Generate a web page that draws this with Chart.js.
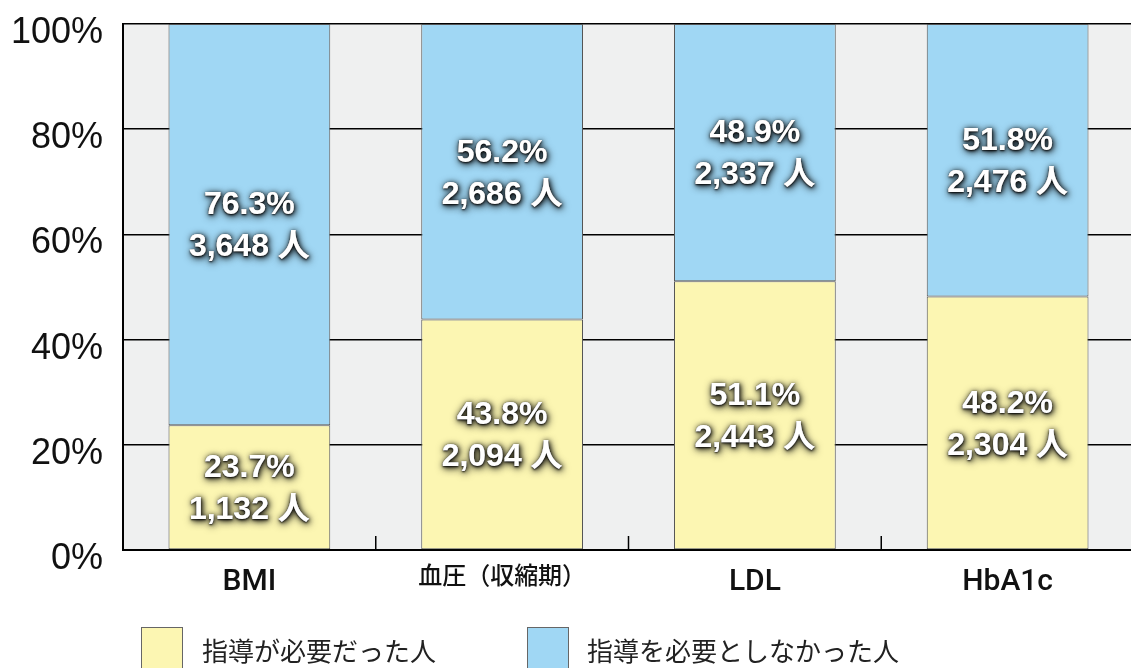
<!DOCTYPE html>
<html>
<head>
<meta charset="utf-8">
<script src="https://cdn.jsdelivr.net/npm/chart.js@4"></script>
<style>
  html, body { margin: 0; padding: 0; background: #fff; overflow: hidden; }
  #wrap { width: 1134px; height: 668px; position: relative; }
</style>
</head>
<body>
<div id="wrap"><canvas id="myChart"></canvas></div>
<script>
const categories = ['BMI', '血圧（収縮期）', 'LDL', 'HbA1c']
const seriesNames = ['指導が必要だった人', '指導を必要としなかった人']
const neededPct = [23.7, 43.8, 51.1, 48.2]
const notNeededPct = [76.3, 56.2, 48.9, 51.8]
const neededCount = [1132, 2094, 2443, 2304]
const notNeededCount = [3648, 2686, 2337, 2476]
const yTicks = [0, 20, 40, 60, 80, 100]

const yellow = '#fcf6b2'
const blue = '#a0d7f4'
const latin = '"Liberation Sans", "Noto Sans CJK JP", sans-serif'

const ctx = document.getElementById('myChart')

// gray plot background
const plotBg = {
  id: 'plotBg',
  beforeDraw(chart) {
    const a = chart.chartArea
    const c = chart.ctx
    c.save()
    c.fillStyle = '#eff0f0'
    c.fillRect(a.left, a.top, a.right - a.left, a.bottom - a.top)
    c.restore()
  }
}

// white labels with dark glow in each segment, small inward ticks, legend
const extras = {
  id: 'extras',
  afterDatasetsDraw(chart) {
    const c = chart.ctx
    const counts = [neededCount, notNeededCount]
    c.save()
    c.font = 'bold 32px ' + latin
    c.textAlign = 'center'
    c.textBaseline = 'middle'
    chart.data.datasets.forEach((ds, di) => {
      const meta = chart.getDatasetMeta(di)
      meta.data.forEach((bar, i) => {
        const yMid = (bar.y + bar.base) / 2 + 2
        const l1 = ds.data[i].toFixed(1) + '%'
        const l2 = counts[di][i].toLocaleString('en-US') + ' 人'
        const passes = [[9, 1, 2, 'rgba(0,0,0,0.95)'], [5, 1, 1, 'rgba(0,0,0,0.9)'], [2, 0, 1, 'rgba(0,0,0,0.85)']]
        passes.forEach(([blur, ox, oy, col]) => {
          c.shadowColor = col
          c.shadowBlur = blur
          c.shadowOffsetX = ox
          c.shadowOffsetY = oy
          c.fillStyle = '#fff'
          c.fillText(l1, bar.x, yMid - 21)
          c.fillText(l2, bar.x, yMid + 21)
        })
      })
    })
    c.restore()
  },
  afterDraw(chart) {
    const c = chart.ctx
    const x = chart.scales.x
    const a = chart.chartArea
    c.save()
    c.strokeStyle = '#000'
    c.lineWidth = 1.5
    for (let i = 1; i <= categories.length; i++) {
      const px = (x.getPixelForValue(i - 1) + x.getPixelForValue(i)) / 2
      c.beginPath()
      c.moveTo(px, a.bottom)
      c.lineTo(px, a.bottom - 14)
      c.stroke()
    }
    // legend
    const items = [[141, 202], [527, 587]]
    c.font = '26px "Noto Sans CJK JP", sans-serif'
    c.textAlign = 'left'
    c.textBaseline = 'middle'
    chart.data.datasets.forEach((ds, di) => {
      const [bx, tx] = items[di]
      c.fillStyle = ds.backgroundColor
      c.fillRect(bx, 627, 42, 44)
      c.strokeStyle = '#666'
      c.lineWidth = 1
      c.strokeRect(bx + 0.5, 627.5, 41, 44)
      c.fillStyle = '#222'
      c.fillText(ds.label, tx, 651)
    })
    c.restore()
  }
}

const data = {
  labels: categories,
  datasets: [
    {
      label: seriesNames[0],
      data: neededPct,
      backgroundColor: yellow,
      borderColor: '#555',
      borderWidth: 1,
      borderSkipped: false
    },
    {
      label: seriesNames[1],
      data: notNeededPct,
      backgroundColor: blue,
      borderColor: '#555',
      borderWidth: 1,
      borderSkipped: false
    }
  ]
}

const config = {
  type: 'bar',
  data: data,
  options: {
    responsive: true,
    maintainAspectRatio: false,
    animation: false,
    layout: { padding: { top: 24, left: 0, right: 0, bottom: 0 } },
    datasets: { bar: { categoryPercentage: 1, barPercentage: 0.64 } },
    plugins: {
      legend: { display: false },
      tooltip: { enabled: false }
    },
    scales: {
      x: {
        stacked: true,
        grid: { display: false },
        border: { display: true, color: '#000', width: 2 },
        ticks: {
          color: '#111',
          padding: 6,
          font: c => ({
            family: 'Roboto, "Noto Sans CJK JP", sans-serif',
            size: c.index === 1 ? 24 : 30,
            weight: '500'
          })
        },
        afterFit(scale) { scale.height = 118 }
      },
      y: {
        stacked: true,
        min: 0,
        max: 100,
        afterBuildTicks(scale) { scale.ticks = yTicks.map(v => ({ value: v })) },
        grid: { color: '#000', lineWidth: 1.5, drawTicks: false },
        border: { display: true, color: '#000', width: 2 },
        ticks: {
          color: '#111',
          padding: 20,
          labelOffset: 9,
          font: { family: latin, size: 36 },
          callback: v => v + '%'
        },
        afterFit(scale) {
          scale.width = 123
          scale.paddingTop = 0
          scale.paddingBottom = 0
        }
      }
    }
  },
  plugins: [plotBg, extras]
}

new Chart(ctx, config)
</script>
</body>
</html>
